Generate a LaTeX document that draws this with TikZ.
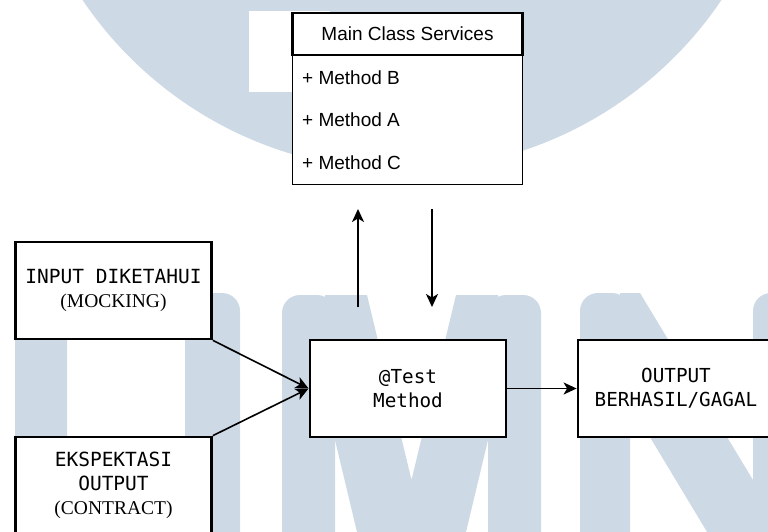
\documentclass[tikz,border=0pt]{standalone}
\usepackage{fontspec}
\setmainfont{Liberation Serif}
\setsansfont{Liberation Sans}
\setmonofont{DejaVu Sans Mono}
\usetikzlibrary{arrows.meta}
\definecolor{wm}{RGB}{205,217,228}

\begin{document}
\begin{tikzpicture}[x=1pt,y=-1pt,
  box/.style={draw, line width=2.8pt, fill=white, minimum width=196pt,
    minimum height=97pt, align=center, inner sep=0pt,
    font=\fontsize{19.5}{23.8}\selectfont},
  mono/.style={font=\ttfamily\fontsize{19.3}{23.8}\selectfont},
  link/.style={line width=1.6pt, -{Stealth[length=13pt,width=12pt,inset=3.5pt]}},
  member/.style={anchor=west, inner sep=0pt, font=\sffamily\fontsize{19}{22}\selectfont},
  wmfill/.style={fill=wm}
]
\useasboundingbox (0,0) rectangle (768,532);
\clip (0,0) rectangle (768,532);

% background logo
\fill[wmfill] (402,-215) circle[radius=385];
\fill[white] (249,11) rectangle (330,92);
% U
\fill[wmfill, rounded corners=18pt] (15,293) rectangle (67,580);
\fill[wmfill, rounded corners=18pt] (185,293) rectangle (240,580);
% M
\fill[wmfill, rounded corners=18pt] (282,295) rectangle (335,580);
\fill[wmfill, rounded corners=18pt] (488,295) rectangle (541,580);
\fill[wmfill] (325,295) -- (367,295) -- (411.5,480) -- (456,295) -- (498,295)
  -- (498,440) -- (488,440) -- (459.3,560) -- (363.7,560) -- (335,440)
  -- (325,440) -- cycle;
% N
\fill[wmfill, rounded corners=18pt] (580,293) rectangle (630,580);
\fill[wmfill, rounded corners=18pt] (753,293) rectangle (805,580);
\fill[wmfill] (620,293) -- (640,293) -- (753,480) -- (760,480) -- (760,580)
  -- (736,580) -- (630,404) -- (620,404) -- cycle;

% class box
\node[draw, line width=1.4pt, fill=white, minimum width=230pt, minimum height=129pt,
  anchor=north, inner sep=0pt] (body) at (407.5,55) {};
\node[draw, line width=2.8pt, fill=white, minimum width=230pt, minimum height=42pt,
  inner sep=0pt, font=\sffamily\fontsize{19}{22}\selectfont] (hdr) at (407.5,34)
  {Main Class Services};
\node[member] (mB) at (302,78) {+ Method B};
\node[member] (mA) at (302,120) {+ Method A};
\node[member] (mC) at (302,163) {+ Method C};

% process boxes
\node[box] (inp) at (113.5,290.5) {\textnormal{\ttfamily INPUT DIKETAHUI}\\(MOCKING)};
\node[box] (exp) at (113.5,485.5) {{\ttfamily EKSPEKTASI}\\{\ttfamily OUTPUT}\\(CONTRACT)};
\node[box, mono] (test) at (408,388.5) {@Test\\Method};
\node[box, mono] (out) at (676,388.5) {OUTPUT\\BERHASIL/GAGAL};

% connectors
\coordinate (upTail) at (358,307);
\coordinate (upHead) at (358,209);
\coordinate (dnTail) at (432,209);
\coordinate (dnHead) at (432,307);
\draw[link] (upTail) -- (upHead);
\draw[link] (dnTail) -- (dnHead);
\draw[link] (inp.south east) -- (test.west);
\draw[link] (exp.north east) -- (test.west);
\draw[link] (test.east) -- (out.west);
\end{tikzpicture}
\end{document}
